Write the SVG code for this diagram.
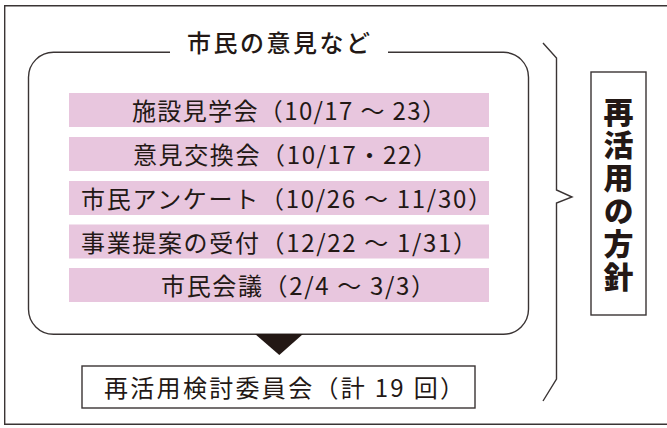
<svg xmlns="http://www.w3.org/2000/svg" width="667" height="428" viewBox="0 0 667 428">
<style>
.ln{fill:none;stroke:#3a3434;stroke-width:1.4}
.bar{fill:#e8c6de}
.t{font-family:"Noto Sans CJK JP","Noto Sans",sans-serif;fill:#231815;font-size:24px}
.v{font-family:"Noto Sans CJK JP","Noto Sans",sans-serif;fill:#231815;font-size:30px;font-weight:900}
</style>
<rect width="667" height="428" fill="#ffffff"/>
<path class="ln" d="M667,5.7 H4.7 V424.3 H667"/>
<g id="opinions">
<path class="ln" d="M170,52.3 H53.5 A25,25 0 0 0 28.5,77.3 V309.3 A25,25 0 0 0 53.5,334.3 H503.5 A25,25 0 0 0 528.5,309.3 V77.3 A25,25 0 0 0 503.5,52.3 H388"/>
<text class="t" x="187" y="51.5" font-size="23" font-weight="500" textLength="183" lengthAdjust="spacing">市民の意見など</text>
</g>
<g id="item1"><rect class="bar" x="69" y="93" width="420" height="34"/><text class="t" x="132" y="120" textLength="314" lengthAdjust="spacing">施設見学会（10/17 ～ 23）</text></g>
<g id="item2"><rect class="bar" x="69" y="137" width="420" height="34"/><text class="t" x="133" y="164" textLength="304" lengthAdjust="spacing">意見交換会（10/17・22）</text></g>
<g id="item3"><rect class="bar" x="69" y="181" width="420" height="34"/><text class="t" x="81" y="208" textLength="411" lengthAdjust="spacing">市民アンケート（10/26 ～ 11/30）</text></g>
<g id="item4"><rect class="bar" x="69" y="224.5" width="420" height="34"/><text class="t" x="81" y="251.5" textLength="396" lengthAdjust="spacing">事業提案の受付（12/22 ～ 1/31）</text></g>
<g id="item5"><rect class="bar" x="69" y="268" width="420" height="34"/><text class="t" x="161" y="295" textLength="274" lengthAdjust="spacing">市民会議（2/4 ～ 3/3）</text></g>
<g id="connectors">
<path d="M255,334 L303,334 L279.3,355 Z" fill="#231815"/>
<path class="ln" d="M543,43 L556.5,58 V190 L572,197 L556.5,203 V379 L543,401"/>
</g>
<g id="committee">
<rect class="ln" x="82" y="366" width="393" height="42"/>
<text class="t" x="104" y="397" textLength="360" lengthAdjust="spacing">再活用検討委員会（計 19 回）</text>
</g>
<g id="policy">
<rect class="ln" x="591" y="72" width="55" height="243"/>
<text class="v" x="618.5" y="96.5" writing-mode="vertical-rl" letter-spacing="3">再活用の方針</text>
</g>
</svg>
